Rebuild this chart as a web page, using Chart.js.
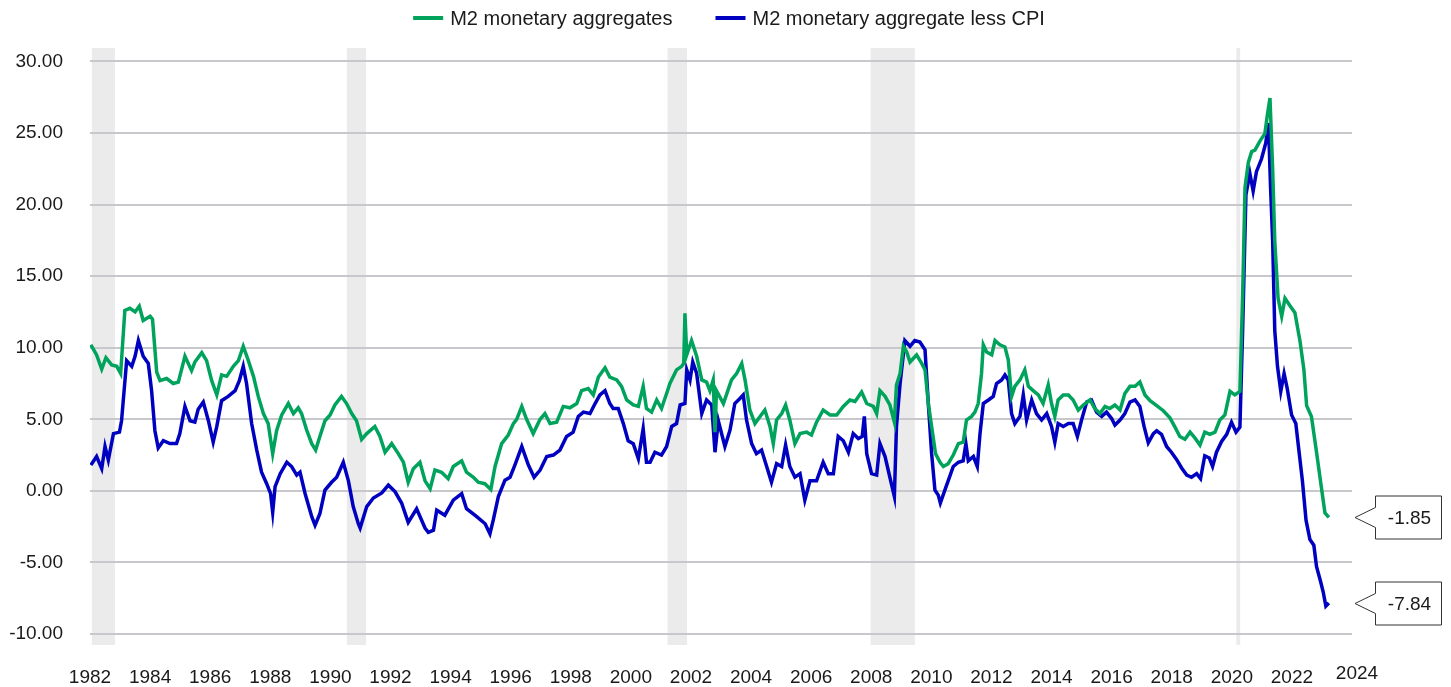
<!DOCTYPE html>
<html>
<head>
<meta charset="utf-8">
<script src="https://cdn.jsdelivr.net/npm/chart.js@4.4.0/dist/chart.umd.min.js"></script>
<style>
  html, body { margin: 0; padding: 0; background: #fff; }
  canvas { display: block; }
</style>
</head>
<body>
<canvas id="myChart" width="1451" height="687"></canvas>
<script>
// M2 year-over-year growth (%)
var m2Years = [
  1982.03, 1982.22, 1982.39, 1982.53, 1982.72, 1982.89, 1983.02, 1983.16, 1983.33, 1983.50,
  1983.64, 1983.77, 1984.00, 1984.08, 1984.22, 1984.33, 1984.55, 1984.77, 1984.94, 1985.16,
  1985.38, 1985.49, 1985.72, 1985.88, 1986.05, 1986.22, 1986.38, 1986.55, 1986.77, 1986.94,
  1987.10, 1987.27, 1987.44, 1987.60, 1987.77, 1987.93, 1988.08, 1988.21, 1988.38, 1988.60,
  1988.77, 1988.93, 1989.04, 1989.21, 1989.38, 1989.51, 1989.65, 1989.82, 1989.99, 1990.15,
  1990.37, 1990.54, 1990.71, 1990.87, 1991.04, 1991.21, 1991.48, 1991.65, 1991.82, 1992.04,
  1992.26, 1992.43, 1992.59, 1992.76, 1992.98, 1993.15, 1993.32, 1993.48, 1993.70, 1993.92,
  1994.09, 1994.37, 1994.53, 1994.76, 1994.92, 1995.14, 1995.34, 1995.48, 1995.70, 1995.92,
  1996.09, 1996.20, 1996.37, 1996.53, 1996.75, 1996.98, 1997.14, 1997.31, 1997.53, 1997.75,
  1997.97, 1998.20, 1998.36, 1998.58, 1998.75, 1998.92, 1999.14, 1999.30, 1999.53, 1999.69,
  1999.86, 2000.08, 2000.25, 2000.41, 2000.52, 2000.69, 2000.86, 2001.02, 2001.19, 2001.30,
  2001.52, 2001.69, 2001.76, 2001.80, 2001.86, 2002.02, 2002.19, 2002.36, 2002.52, 2002.63,
  2002.74, 2002.80, 2002.85, 2003.08, 2003.35, 2003.52, 2003.69, 2003.80, 2003.96, 2004.13,
  2004.30, 2004.46, 2004.63, 2004.74, 2004.85, 2005.02, 2005.15, 2005.29, 2005.46, 2005.63,
  2005.85, 2006.01, 2006.18, 2006.40, 2006.63, 2006.85, 2007.07, 2007.29, 2007.46, 2007.68,
  2007.85, 2008.07, 2008.18, 2008.29, 2008.46, 2008.62, 2008.77, 2008.84, 2008.96, 2009.07,
  2009.18, 2009.29, 2009.40, 2009.51, 2009.68, 2009.79, 2009.90, 2010.01, 2010.14, 2010.29,
  2010.40, 2010.56, 2010.73, 2010.90, 2011.06, 2011.17, 2011.34, 2011.45, 2011.56, 2011.67,
  2011.73, 2011.84, 2012.01, 2012.12, 2012.28, 2012.45, 2012.56, 2012.67, 2012.78, 2012.95,
  2013.11, 2013.23, 2013.39, 2013.56, 2013.72, 2013.89, 2014.00, 2014.11, 2014.22, 2014.39,
  2014.56, 2014.72, 2014.89, 2015.06, 2015.28, 2015.44, 2015.61, 2015.78, 2015.94, 2016.11,
  2016.28, 2016.44, 2016.61, 2016.78, 2016.94, 2017.11, 2017.28, 2017.50, 2017.72, 2017.94,
  2018.11, 2018.27, 2018.44, 2018.61, 2018.77, 2018.94, 2019.10, 2019.27, 2019.44, 2019.60,
  2019.77, 2019.94, 2020.10, 2020.27, 2020.36, 2020.44, 2020.55, 2020.66, 2020.77, 2020.94,
  2021.10, 2021.18, 2021.27, 2021.36, 2021.43, 2021.54, 2021.66, 2021.77, 2021.93, 2022.10,
  2022.27, 2022.40, 2022.49, 2022.65, 2022.82, 2022.95, 2023.10, 2023.23
];
var m2Values = [
  10.2, 9.5, 8.5, 9.3, 8.8, 8.7, 8.2, 12.6, 12.75, 12.5,
  12.9, 11.9, 12.2, 12.0, 8.3, 7.7, 7.85, 7.5, 7.6, 9.4,
  8.4, 9.0, 9.65, 9.1, 7.7, 6.7, 8.1, 8.0, 8.7, 9.1,
  10.1, 9.1, 8.0, 6.6, 5.4, 4.7, 2.6, 4.2, 5.3, 6.1,
  5.4, 5.8, 5.4, 4.25, 3.3, 2.85, 3.8, 4.9, 5.3, 6.0,
  6.6, 6.1, 5.4, 4.9, 3.6, 4.0, 4.5, 3.8, 2.7, 3.3,
  2.6, 2.0, 0.6, 1.55, 2.0, 0.7, 0.15, 1.45, 1.3, 0.85,
  1.7, 2.1, 1.3, 0.95, 0.6, 0.5, 0.1, 1.7, 3.3, 3.9,
  4.7, 5.0, 5.9, 5.0, 4.0, 5.0, 5.4, 4.7, 4.8, 5.9,
  5.8, 6.1, 7.0, 7.15, 6.7, 7.95, 8.6, 7.95, 7.75, 7.3,
  6.35, 6.0, 5.9, 7.3, 5.75, 5.5, 6.35, 5.75, 6.8, 7.5,
  8.45, 8.7, 8.9, 12.4, 9.5, 10.5, 9.4, 7.75, 7.6, 7.0,
  7.75, 4.1, 7.0, 6.1, 7.75, 8.2, 8.9, 7.75, 5.65, 4.7,
  5.2, 5.65, 4.5, 3.3, 4.95, 5.4, 6.0, 4.95, 3.3, 4.0,
  4.1, 3.9, 4.8, 5.65, 5.3, 5.3, 5.9, 6.35, 6.25, 6.9,
  6.1, 5.9, 5.4, 7.0, 6.6, 6.0, 4.8, 7.4, 8.2, 10.1,
  9.7, 9.0, 9.25, 9.5, 8.9, 8.45, 6.1, 4.5, 2.6, 2.0,
  1.7, 1.9, 2.5, 3.3, 3.4, 4.95, 5.2, 5.5, 6.1, 8.2,
  10.2, 9.7, 9.5, 10.5, 10.2, 10.05, 9.15, 6.6, 7.3, 7.75,
  8.45, 7.3, 7.0, 6.7, 6.1, 7.4, 6.1, 5.2, 6.35, 6.7,
  6.7, 6.35, 5.65, 6.0, 6.35, 5.75, 5.4, 5.9, 5.75, 6.0,
  5.65, 6.8, 7.3, 7.3, 7.6, 6.7, 6.3, 5.95, 5.6, 5.1,
  4.45, 3.8, 3.6, 4.1, 3.7, 3.2, 4.1, 3.95, 4.1, 4.95,
  5.3, 6.95, 6.7, 6.95, 13.7, 21.2, 22.95, 23.7, 23.8, 24.45,
  24.95, 26.2, 27.45, 22.45, 17.45, 13.45, 12.2, 13.45, 12.95, 12.45,
  10.45, 8.45, 5.95, 5.2, 2.7, 0.7, -1.55, -1.85
];

// M2 growth less CPI inflation (%)
var realYears = [
  1982.03, 1982.22, 1982.39, 1982.50, 1982.61, 1982.78, 1982.98, 1983.05, 1983.22, 1983.39,
  1983.50, 1983.61, 1983.77, 1983.94, 1984.05, 1984.16, 1984.27, 1984.44, 1984.66, 1984.88,
  1984.99, 1985.16, 1985.33, 1985.49, 1985.60, 1985.77, 1985.94, 1986.10, 1986.22, 1986.38,
  1986.60, 1986.83, 1986.97, 1987.10, 1987.21, 1987.38, 1987.55, 1987.71, 1987.88, 1988.01,
  1988.08, 1988.16, 1988.33, 1988.55, 1988.71, 1988.88, 1988.99, 1989.16, 1989.38, 1989.49,
  1989.65, 1989.82, 1990.04, 1990.21, 1990.43, 1990.60, 1990.76, 1990.93, 1990.99, 1991.21,
  1991.43, 1991.71, 1991.93, 1992.15, 1992.37, 1992.59, 1992.87, 1993.15, 1993.26, 1993.43,
  1993.54, 1993.81, 1994.09, 1994.37, 1994.53, 1994.87, 1995.15, 1995.31, 1995.42, 1995.59,
  1995.81, 1995.98, 1996.14, 1996.37, 1996.59, 1996.78, 1996.98, 1997.20, 1997.42, 1997.64,
  1997.86, 1998.08, 1998.25, 1998.42, 1998.64, 1998.81, 1998.97, 1999.14, 1999.30, 1999.41,
  1999.58, 1999.75, 1999.91, 2000.08, 2000.25, 2000.41, 2000.52, 2000.64, 2000.80, 2001.02,
  2001.19, 2001.36, 2001.52, 2001.64, 2001.80, 2001.86, 2001.97, 2002.06, 2002.19, 2002.36,
  2002.52, 2002.69, 2002.80, 2002.91, 2003.13, 2003.30, 2003.46, 2003.63, 2003.74, 2003.85,
  2004.02, 2004.18, 2004.35, 2004.52, 2004.68, 2004.85, 2005.02, 2005.15, 2005.29, 2005.46,
  2005.63, 2005.79, 2005.96, 2006.18, 2006.40, 2006.57, 2006.74, 2006.90, 2007.07, 2007.24,
  2007.40, 2007.57, 2007.70, 2007.77, 2007.85, 2008.01, 2008.18, 2008.29, 2008.46, 2008.62,
  2008.77, 2008.84, 2008.96, 2009.12, 2009.29, 2009.45, 2009.62, 2009.79, 2009.90, 2010.01,
  2010.12, 2010.23, 2010.30, 2010.45, 2010.56, 2010.73, 2010.90, 2011.06, 2011.15, 2011.23,
  2011.40, 2011.53, 2011.62, 2011.73, 2011.90, 2012.06, 2012.17, 2012.34, 2012.45, 2012.56,
  2012.67, 2012.78, 2012.95, 2013.06, 2013.17, 2013.34, 2013.50, 2013.67, 2013.84, 2014.00,
  2014.11, 2014.22, 2014.39, 2014.56, 2014.72, 2014.86, 2015.00, 2015.17, 2015.33, 2015.50,
  2015.67, 2015.83, 2016.00, 2016.11, 2016.28, 2016.44, 2016.61, 2016.78, 2016.94, 2017.08,
  2017.22, 2017.39, 2017.50, 2017.66, 2017.83, 2017.99, 2018.16, 2018.33, 2018.50, 2018.66,
  2018.83, 2018.96, 2019.10, 2019.25, 2019.36, 2019.49, 2019.66, 2019.83, 2019.99, 2020.14,
  2020.27, 2020.36, 2020.47, 2020.60, 2020.71, 2020.82, 2020.99, 2021.13, 2021.22, 2021.29,
  2021.36, 2021.43, 2021.52, 2021.63, 2021.74, 2021.84, 2021.99, 2022.13, 2022.24, 2022.35,
  2022.47, 2022.60, 2022.73, 2022.82, 2022.95, 2023.04, 2023.13, 2023.23
];
var realValues = [
  1.8, 2.4, 1.55, 3.1, 2.15, 4.0, 4.1, 4.9, 9.1, 8.7,
  9.4, 10.5, 9.4, 8.9, 7.0, 4.2, 3.0, 3.5, 3.3, 3.3,
  4.0, 5.9, 4.9, 4.8, 5.7, 6.2, 4.9, 3.4, 4.5, 6.3,
  6.6, 7.0, 7.7, 8.7, 7.5, 4.7, 2.85, 1.3, 0.5, -0.2,
  -1.5, 0.3, 1.2, 2.0, 1.7, 1.1, 1.3, -0.2, -1.8, -2.4,
  -1.6, 0.05, 0.6, 0.95, 2.0, 0.7, -1.1, -2.3, -2.6, -1.1,
  -0.5, -0.15, 0.4, -0.05, -0.85, -2.2, -1.25, -2.6, -2.9, -2.75,
  -1.35, -1.7, -0.65, -0.2, -1.25, -1.8, -2.3, -3.0, -2.05, -0.4,
  0.75, 0.95, 1.8, 3.1, 1.8, 0.95, 1.45, 2.4, 2.5, 2.85,
  3.8, 4.1, 5.2, 5.5, 5.4, 6.1, 6.7, 7.0, 6.1, 5.75,
  5.75, 4.7, 3.5, 3.3, 2.25, 4.35, 2.0, 2.0, 2.7, 2.5,
  3.1, 4.5, 4.7, 6.0, 6.1, 8.45, 7.75, 9.0, 8.2, 5.4,
  6.35, 6.0, 2.7, 4.9, 3.1, 4.25, 6.1, 6.45, 6.7, 4.95,
  3.3, 2.6, 2.85, 1.7, 0.6, 1.9, 1.7, 3.2, 1.7, 0.95,
  1.2, -0.65, 0.7, 0.7, 2.0, 1.2, 1.2, 3.8, 3.5, 2.7,
  4.0, 3.65, 3.8, 5.2, 2.6, 1.2, 1.1, 3.3, 2.4, 0.95,
  -0.4, 4.5, 7.5, 10.5, 10.1, 10.5, 10.4, 9.85, 6.1, 2.6,
  0.05, -0.3, -0.85, 0.05, 0.7, 1.7, 2.0, 2.1, 3.3, 2.1,
  2.4, 1.7, 4.0, 6.1, 6.35, 6.6, 7.5, 7.75, 8.1, 7.75,
  5.4, 4.7, 5.2, 6.7, 4.95, 6.35, 5.4, 4.95, 5.4, 4.5,
  3.4, 4.7, 4.5, 4.7, 4.7, 3.8, 4.95, 6.2, 6.35, 5.5,
  5.2, 5.5, 5.05, 4.6, 4.95, 5.4, 6.2, 6.35, 5.9, 4.5,
  3.35, 4.0, 4.2, 3.95, 3.1, 2.7, 2.2, 1.6, 1.1, 0.95,
  1.2, 0.85, 2.45, 2.3, 1.7, 2.7, 3.45, 3.95, 4.8, 4.1,
  4.45, 11.2, 20.7, 22.2, 20.95, 22.3, 23.2, 24.3, 25.7, 21.2,
  17.45, 11.2, 8.7, 6.95, 8.2, 7.2, 5.3, 4.7, 2.7, 0.7,
  -2.05, -3.4, -3.8, -5.3, -6.3, -7.05, -8.05, -7.84
];

var seriesLabels = ['M2 monetary aggregates', 'M2 monetary aggregate less CPI'];
var yTicks = [-10, -5, 0, 5, 10, 15, 20, 25, 30];
// recession periods shaded in grey
var recessions = [[1982.06, 1982.83], [1990.55, 1991.19], [2001.22, 2001.87], [2007.98, 2009.45], [2020.15, 2020.28]];

var GREEN = '#00a35c';
var BLUE = '#0000c0';
var FONT = "'Liberation Sans', Arial, sans-serif";

function toPoints(xs, ys) {
  return xs.map(function (x, i) { return { x: x, y: ys[i] } });
}

var shading = {
  id: 'shading',
  beforeDraw: function (chart) {
    var ctx = chart.ctx, a = chart.chartArea, xs = chart.scales.x;
    ctx.save();
    ctx.fillStyle = '#ebebeb';
    recessions.forEach(function (r) {
      var x0 = xs.getPixelForValue(r[0]), x1 = xs.getPixelForValue(r[1]);
      ctx.fillRect(x0, a.top, x1 - x0, a.bottom - a.top);
    });
    ctx.restore();
  }
};

var extras = {
  id: 'extras',
  afterDraw: function (chart) {
    var ctx = chart.ctx, a = chart.chartArea, ys = chart.scales.y;
    ctx.save();

    // legend
    ctx.font = '20px ' + FONT;
    ctx.textBaseline = 'middle';
    var gap = 43, box = 30, sp = 7;
    var widths = chart.data.datasets.map(function (d) { return box + sp + ctx.measureText(d.label).width });
    var total = widths[0] + gap + widths[1];
    var lx = 729 - total / 2, ly = 18;
    chart.data.datasets.forEach(function (d, i) {
      ctx.fillStyle = d.borderColor;
      ctx.fillRect(lx, ly - 2, box, 4);
      ctx.fillStyle = '#1a1a1a';
      ctx.textAlign = 'left';
      ctx.fillText(d.label, lx + box + sp, ly + 1);
      lx += widths[i] + gap;
    });

    // lonely 2024 label sits a bit higher than the rest
    ctx.font = '19px ' + FONT;
    ctx.textAlign = 'center';
    ctx.fillText('2024', 1357, 674);

    // last-value callouts
    chart.data.datasets.forEach(function (d) {
      var last = d.data[d.data.length - 1].y;
      var y = Math.round(ys.getPixelForValue(last)) + 0.5;
      var tip = a.right + 3, bx = tip + 20.5, bw = 66, bh = 43;
      var top = y - bh / 2, bot = y + bh / 2;
      ctx.beginPath();
      ctx.moveTo(tip, y);
      ctx.lineTo(bx, y - 10);
      ctx.lineTo(bx, top);
      ctx.lineTo(bx + bw, top);
      ctx.lineTo(bx + bw, bot);
      ctx.lineTo(bx, bot);
      ctx.lineTo(bx, y + 10);
      ctx.closePath();
      ctx.fillStyle = '#fff';
      ctx.fill();
      ctx.strokeStyle = '#333';
      ctx.lineWidth = 1;
      ctx.stroke();
      ctx.fillStyle = '#1a1a1a';
      ctx.textAlign = 'center';
      ctx.fillText(last.toFixed(2), bx + bw / 2 + 1, y + 1);
    });
    ctx.restore();
  }
};

new Chart(document.getElementById('myChart'), {
  type: 'line',
  data: {
    datasets: [{
      label: seriesLabels[0],
      data: toPoints(m2Years, m2Values),
      borderColor: GREEN,
      backgroundColor: GREEN,
      borderWidth: 3.5,
      pointRadius: 0,
      tension: 0
    }, {
      label: seriesLabels[1],
      data: toPoints(realYears, realValues),
      borderColor: BLUE,
      backgroundColor: BLUE,
      borderWidth: 3.5,
      pointRadius: 0,
      tension: 0
    }]
  },
  options: {
    responsive: false,
    animation: false,
    devicePixelRatio: 1,
    layout: { padding: { top: 48, right: 99, bottom: 0, left: 0 } },
    plugins: {
      legend: { display: false },
      tooltip: { enabled: false }
    },
    scales: {
      x: {
        type: 'linear',
        min: 1982,
        max: 2024,
        grid: { display: false, drawTicks: false },
        border: { display: false },
        ticks: {
          stepSize: 2,
          autoSkip: false,
          maxRotation: 0,
          padding: 21,
          color: '#1a1a1a',
          font: { family: FONT, size: 19 },
          callback: function (v) { return v === 2024 ? '' : String(v) }
        },
        afterFit: function (s) { s.height = 42 }
      },
      y: {
        min: -10.77,
        max: 30.94,
        afterBuildTicks: function (s) {
          s.ticks = yTicks.map(function (v) { return { value: v } });
        },
        grid: { color: '#c8c8cc', lineWidth: 2, drawTicks: false },
        border: { display: false },
        ticks: {
          padding: 27,
          color: '#1a1a1a',
          font: { family: FONT, size: 19 },
          callback: function (v) { return v.toFixed(2) }
        },
        afterFit: function (s) { s.width = 90 }
      }
    }
  },
  plugins: [shading, extras]
});
</script>
</body>
</html>
